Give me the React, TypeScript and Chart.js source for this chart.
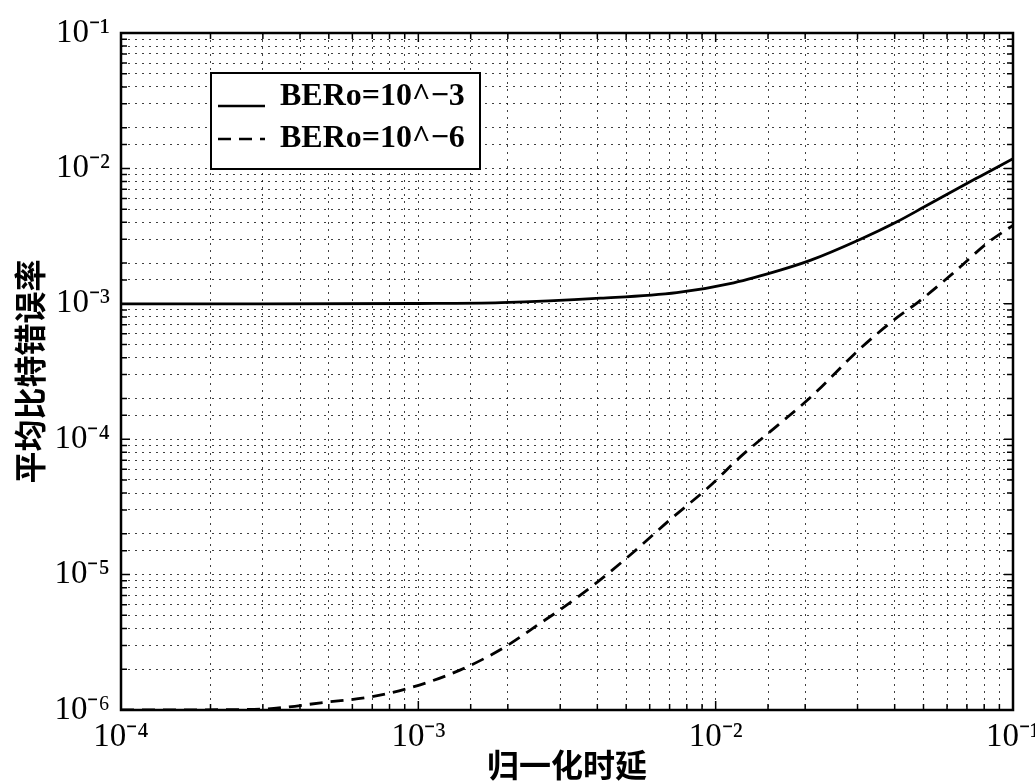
import { useEffect, useRef } from 'react';
import { Chart, registerables } from 'chart.js';

Chart.register(...registerables);

// ---- data ----
const xTitle = '归一化时延';
const yTitle = '平均比特错误率';
const seriesLabels = ['BERo=10^\u22123', 'BERo=10^\u22126'];

const solidX = [1e-4, 3e-4, 1e-3, 1.9e-3, 4.1e-3, 7.4e-3, 1.15e-2, 1.66e-2, 2.09e-2, 3.03e-2, 4.04e-2, 5.0e-2, 6.2e-2, 7.8e-2, 1e-1];
const solidY = [1.0e-3, 1.0e-3, 1.005e-3, 1.02e-3, 1.1e-3, 1.21e-3, 1.43e-3, 1.78e-3, 2.1e-3, 2.96e-3, 4.0e-3, 5.16e-3, 6.7e-3, 8.8e-3, 1.18e-2];

const dashX = [1e-4, 2.8e-4, 3.6e-4, 4.7e-4, 6.9e-4, 9.6e-4, 1.38e-3, 1.93e-3, 2.58e-3, 3.0e-3, 4.0e-3, 5.3e-3, 7.0e-3, 9.4e-3, 1.21e-2, 1.62e-2, 2.09e-2, 3.08e-2, 4.1e-2, 4.8e-2, 6.3e-2, 8.2e-2, 1e-1];
const dashY = [1.0e-6, 1.01e-6, 1.05e-6, 1.13e-6, 1.25e-6, 1.48e-6, 1.97e-6, 2.87e-6, 4.4e-6, 5.5e-6, 8.8e-6, 1.47e-5, 2.53e-5, 4.36e-5, 7.4e-5, 1.27e-4, 2.05e-4, 4.72e-4, 8.0e-4, 1.03e-3, 1.69e-3, 2.81e-3, 3.8e-3];

const xRange = [1e-4, 1e-1];
const yRange = [1e-6, 1e-1];

const SUP: Record<string, string> = {
  '-': '\u207B', '0': '\u2070', '1': '\u00B9', '2': '\u00B2', '3': '\u00B3',
  '4': '\u2074', '5': '\u2075', '6': '\u2076', '7': '\u2077', '8': '\u2078', '9': '\u2079',
};

function isPow10(v: number) {
  const e = Math.log10(v);
  return Math.abs(e - Math.round(e)) < 1e-6;
}
function powLabel(v: number) {
  if (!isPow10(v)) return '';
  const e = String(Math.round(Math.log10(v)));
  return '10' + e.split('').map((c) => SUP[c] || c).join('');
}

const serif = '"Liberation Serif", "Times New Roman", serif';
const cjk = '"Noto Sans CJK SC", sans-serif';

const framePlugin = {
  id: 'frame',
  afterDatasetsDraw(chart: any) {
    const { ctx, chartArea: ca, scales } = chart;
    ctx.save();
    ctx.strokeStyle = '#000';
    ctx.lineWidth = 1.5;
    ctx.setLineDash([]);
    ctx.beginPath();
    for (const t of scales.x.ticks) {
      const px = scales.x.getPixelForValue(t.value);
      const len = isPow10(t.value) ? 9 : 6;
      ctx.moveTo(px, ca.bottom);
      ctx.lineTo(px, ca.bottom - len);
      ctx.moveTo(px, ca.top);
      ctx.lineTo(px, ca.top + len);
    }
    for (const t of scales.y.ticks) {
      const py = scales.y.getPixelForValue(t.value);
      const len = isPow10(t.value) ? 9 : 6;
      ctx.moveTo(ca.left, py);
      ctx.lineTo(ca.left + len, py);
      ctx.moveTo(ca.right, py);
      ctx.lineTo(ca.right - len, py);
    }
    ctx.stroke();
    ctx.lineWidth = 2.5;
    ctx.strokeRect(ca.left, ca.top, ca.right - ca.left, ca.bottom - ca.top);

    // legend box
    const lx = ca.left + 90;
    const ly = ca.top + 40;
    const lw = 269;
    const lh = 96;
    ctx.fillStyle = '#fff';
    ctx.fillRect(lx, ly, lw, lh);
    ctx.lineWidth = 2;
    ctx.strokeRect(lx, ly, lw, lh);
    const rows = [
      { textY: ly + 24, lineY: ly + 33 },
      { textY: ly + 66, lineY: ly + 66 },
    ];
    chart.data.datasets.forEach((ds: any, i: number) => {
      const r = rows[i];
      ctx.strokeStyle = ds.borderColor;
      ctx.lineWidth = 2.5;
      ctx.setLineDash(ds.borderDash || []);
      ctx.beginPath();
      ctx.moveTo(lx + 7, r.lineY);
      ctx.lineTo(lx + 54, r.lineY);
      ctx.stroke();
      ctx.setLineDash([]);
      ctx.fillStyle = '#000';
      ctx.font = 'bold 32px ' + serif;
      ctx.textBaseline = 'middle';
      ctx.textAlign = 'left';
      ctx.fillText(ds.label, lx + 69, r.textY);
    });
    ctx.restore();
  },
};

export default function App() {
  const ref = useRef<HTMLCanvasElement | null>(null);
  useEffect(() => {
    document.body.style.margin = '0';
    if (!ref.current) return;
    const chart = new Chart(ref.current, {
      type: 'line',
      data: {
        datasets: [
          {
            label: seriesLabels[0],
            data: solidX.map((x, i) => ({ x, y: solidY[i] })),
            borderColor: '#000',
            borderWidth: 2.8,
            pointRadius: 0,
            cubicInterpolationMode: 'monotone',
            fill: false,
          },
          {
            label: seriesLabels[1],
            data: dashX.map((x, i) => ({ x, y: dashY[i] })),
            borderColor: '#000',
            borderWidth: 2.8,
            borderDash: [13, 8],
            pointRadius: 0,
            cubicInterpolationMode: 'monotone',
            fill: false,
          },
        ],
      },
      options: {
        animation: false,
        responsive: true,
        maintainAspectRatio: false,
        layout: { padding: { top: 33, right: 22, left: 0, bottom: 0 } },
        plugins: { legend: { display: false }, tooltip: { enabled: false } },
        scales: {
          x: {
            type: 'logarithmic',
            min: xRange[0],
            max: xRange[1],
            border: { display: false, dash: [2, 5] },
            grid: { color: 'rgba(0,0,0,0.75)', lineWidth: 1, drawTicks: false },
            ticks: {
              autoSkip: false,
              maxRotation: 0,
              padding: 8,
              color: '#000',
              font: { family: serif, size: 33 },
              callback: (v: any) => powLabel(Number(v)),
            },
            title: {
              display: true,
              text: xTitle,
              color: '#000',
              padding: 0,
              font: { family: cjk, size: 32, weight: 'bold', lineHeight: 1 },
            },
            afterFit: (s: any) => {
              s.height = 71;
              s.paddingLeft = 0;
              s.paddingRight = 0;
            },
          },
          y: {
            type: 'logarithmic',
            min: yRange[0],
            max: yRange[1],
            border: { display: false, dash: [2, 5] },
            grid: { color: 'rgba(0,0,0,0.75)', lineWidth: 1, drawTicks: false },
            ticks: {
              autoSkip: false,
              padding: 11,
              color: '#000',
              font: { family: serif, size: 33 },
              callback: (v: any) => powLabel(Number(v)),
            },
            title: {
              display: true,
              text: yTitle,
              color: '#000',
              padding: { top: 14, bottom: 0 },
              font: { family: cjk, size: 32, weight: 'bold', lineHeight: 1 },
            },
            afterFit: (s: any) => {
              s.width = 121;
              s.paddingTop = 0;
              s.paddingBottom = 0;
            },
          },
        },
      } as any,
      plugins: [framePlugin],
    });
    return () => chart.destroy();
  }, []);
  return (
    <div style={{ position: 'fixed', left: 0, top: 0, width: 1035, height: 781, background: '#fff' }}>
      <canvas ref={ref} />
    </div>
  );
}
